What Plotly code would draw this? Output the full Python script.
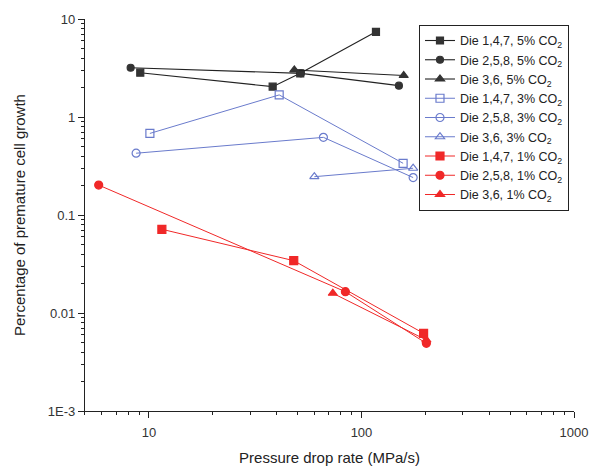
import plotly.graph_objects as go

# Die 1,4,7 / 2,5,8 / 3,6 at 5%, 3%, 1% CO2
x_147_5 = [9.1, 38.2, 51.5, 117]
y_147_5 = [2.83, 2.04, 2.79, 7.4]
x_258_5 = [8.2, 51.9, 150]
y_258_5 = [3.18, 2.79, 2.09]
x_36_5 = [48.3, 158]
y_36_5 = [3.02, 2.65]

x_147_3 = [10.1, 41, 157]
y_147_3 = [0.68, 1.68, 0.337]
x_258_3 = [8.7, 66.2, 175]
y_258_3 = [0.427, 0.62, 0.241]
x_36_3 = [60, 175]
y_36_3 = [0.246, 0.30]

x_147_1 = [11.5, 48, 196]
y_147_1 = [0.0715, 0.0342, 0.0062]
x_258_1 = [5.8, 84, 202]
y_258_1 = [0.202, 0.0165, 0.0049]
x_36_1 = [73.3, 202]
y_36_1 = [0.0159, 0.0053]

names = [
    "Die 1,4,7, 5% CO<sub>2</sub>", "Die 2,5,8, 5% CO<sub>2</sub>", "Die 3,6, 5% CO<sub>2</sub>",
    "Die 1,4,7, 3% CO<sub>2</sub>", "Die 2,5,8, 3% CO<sub>2</sub>", "Die 3,6, 3% CO<sub>2</sub>",
    "Die 1,4,7, 1% CO<sub>2</sub>", "Die 2,5,8, 1% CO<sub>2</sub>", "Die 3,6, 1% CO<sub>2</sub>",
]
xs = [x_147_5, x_258_5, x_36_5, x_147_3, x_258_3, x_36_3, x_147_1, x_258_1, x_36_1]
ys = [y_147_5, y_258_5, y_36_5, y_147_3, y_258_3, y_36_3, y_147_1, y_258_1, y_36_1]

black = "#222222"
blue = "#6a7bcc"
red = "#f02828"
styles = [
    (black, "square", "#333333", 1.1, 7),
    (black, "circle", "#333333", 1.1, 7),
    (black, "triangle-up", "#333333", 1.1, 8),
    (blue, "square-open", blue, 1.0, 8),
    (blue, "circle-open", blue, 1.0, 8),
    (blue, "triangle-up-open", blue, 1.0, 8),
    (red, "square", red, 1.0, 8),
    (red, "circle", red, 1.0, 8),
    (red, "triangle-up", red, 1.0, 8),
]

fig = go.Figure()
for n, x, y, (c, sym, mc, lw, ms) in zip(names, xs, ys, styles):
    fig.add_trace(go.Scatter(
        x=x, y=y, name=n, mode="lines+markers",
        line=dict(color=c, width=lw),
        marker=dict(symbol=sym, size=ms, color=mc, line=dict(color=mc, width=1.2)),
    ))

def minor_vals(lo, hi):
    v = []
    for e in range(lo, hi):
        for m in range(2, 10):
            v.append(m * 10 ** e)
    return v

fig.update_layout(
    width=591, height=469,
    margin=dict(l=85, r=17, t=19, b=58, autoexpand=False),
    plot_bgcolor="white", paper_bgcolor="white",
    font=dict(family="Liberation Sans, Arial, sans-serif", color="#222"),
    showlegend=True,
    legend=dict(
        x=0.683, y=0.985, xanchor="left", yanchor="top",
        bgcolor="white", bordercolor="#222", borderwidth=1,
        font=dict(size=12.5, color="#222"), tracegroupgap=0,
        itemwidth=30,
    ),
    xaxis=dict(
        type="log", range=[0.699, 3.0], automargin=False,
        title=dict(text="Pressure drop rate (MPa/s)", font=dict(size=15, color="#222"), standoff=13),
        showline=True, linecolor="#222", linewidth=1.3, showgrid=False, zeroline=False,
        ticks="outside", ticklen=6, tickcolor="#222", tickwidth=1.3,
        tickvals=[10, 100, 1000], ticktext=["10", "100", "1000"],
        tickfont=dict(size=13, color="#333"), ticklabelstandoff=3,
        minor=dict(tickvals=minor_vals(0, 3), ticks="outside", ticklen=3, tickcolor="#222", showgrid=False),
    ),
    yaxis=dict(
        type="log", range=[-3, 1], automargin=False,
        title=dict(text="Percentage of premature cell growth", font=dict(size=15, color="#222"), standoff=18),
        showline=True, linecolor="#222", linewidth=1.3, showgrid=False, zeroline=False,
        ticks="outside", ticklen=6, tickcolor="#222", tickwidth=1.3,
        tickvals=[0.001, 0.01, 0.1, 1, 10], ticktext=["1E-3", "0.01", "0.1", "1", "10"],
        tickfont=dict(size=13, color="#333"),
        minor=dict(tickvals=minor_vals(-3, 1), ticks="outside", ticklen=3, tickcolor="#222", showgrid=False),
    ),
)

fig.write_html("out.html", config={"displayModeBar": False},
               post_script="document.body.style.margin='0';")
